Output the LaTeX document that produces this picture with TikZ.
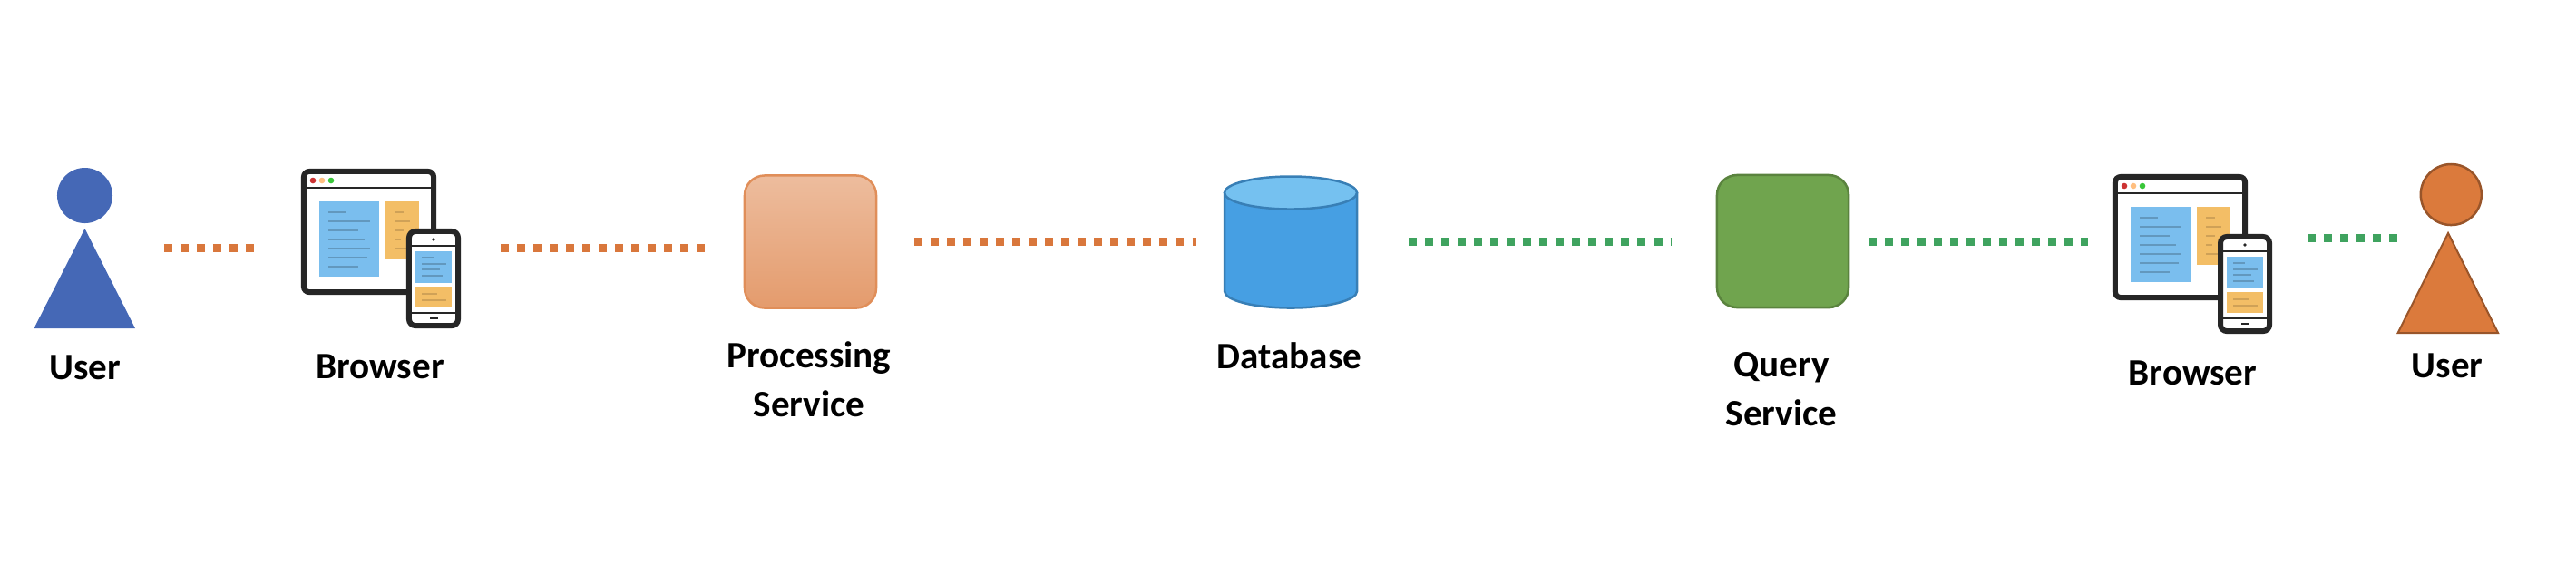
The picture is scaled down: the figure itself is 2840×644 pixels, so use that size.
\documentclass[tikz,border=0pt]{standalone}
\usepackage{fontspec}
\usepackage{xcolor}
\usepackage{tikz}
\usetikzlibrary{positioning,shapes.geometric}
\setmainfont{Carlito}
\definecolor{qblue}{HTML}{4568B6}
\definecolor{qorange}{HTML}{DB7A3C}
\definecolor{qdotorange}{HTML}{D9773C}
\definecolor{qdotgreen}{HTML}{3FA35F}
\definecolor{qgreen}{HTML}{70A44E}
\definecolor{qdbside}{HTML}{469FE3}
\definecolor{qdbtop}{HTML}{75C1F0}
\definecolor{qpaneblue}{HTML}{7ABEEE}
\definecolor{qpaneorange}{HTML}{F3BE66}
\tikzset{
  browser/.pic={
    \fill[black!6] (110,60) rectangle (143,133);
    \node[win,minimum width=1.43cm,minimum height=1.33cm] (-win) at (74.5,69.5) {};
    \draw[rule] (4,21) -- (145,21);
    \foreach \xa/\c in {13/red!60!gray,23/orange!50!white,33/green!55!gray}
      \fill[\c] (\xa,13) circle (3.3);
    \fill[qpaneblue] (20,36) rectangle (86,119);
    \fill[qpaneorange] (93,36) rectangle (130,100);
    \foreach \ya/\e in {48/50,58/76,68/63,78/70,88/76,98/73,108/63}
      \draw[txtblue] (30,\ya) -- (\e,\ya);
    \foreach \ya/\e in {48/113,58/120,68/113,78/110,88/116}
      \draw[txtorange] (103,\ya) -- (\e,\ya);
    \node[win,rounded corners=.07cm,minimum width=.54cm,minimum height=1.04cm] (-ph) at (146,121) {};
    \draw[rule] (119,85) -- (173,85);
    \draw[rule] (119,159) -- (173,159);
    \fill[black!85] (146,78) circle (1.9);
    \fill[black!85] (141.5,163.7) rectangle (150.5,166.3);
    \fill[qpaneblue] (126,91) rectangle (166,126);
    \fill[qpaneorange] (126,130) rectangle (166,153);
    \foreach \ya/\e in {98/146,105/160,111/153,118/156}
      \draw[txtblue] (133,\ya) -- (\e,\ya);
    \foreach \ya/\e in {138/150,145/160}
      \draw[txtorange] (133,\ya) -- (\e,\ya);
  }
}

\begin{document}
\begin{tikzpicture}[x=.01cm,y=-.01cm,
  win/.style={draw=black!85,fill=white,line width=.06cm,rounded corners=.06cm,inner sep=0pt},
  rule/.style={black!85,line width=.025cm},
  txtblue/.style={qpaneblue!80!black,line width=.022cm},
  txtorange/.style={qpaneorange!85!black,line width=.022cm},
  head/.style={ellipse,inner sep=0pt},
  svc/.style={rounded corners=.22cm,minimum width=1.45cm,minimum height=1.46cm,line width=.025cm,inner sep=0pt},
  lbl/.style={font=\fontsize{11.7}{15.1}\selectfont\bfseries,align=center,inner sep=0pt,text=black},
  dotorg/.style={qdotorange,line width=.09cm,dash pattern=on .09cm off .09cm},
  dotgrn/.style={qdotgreen,line width=.09cm,dash pattern=on .09cm off .09cm}]
\useasboundingbox (0,0) rectangle (2840,644);
\coordinate (rowa) at (0,273);
\coordinate (rowb) at (0,262);
% left user
\node[head,fill=qblue,minimum width=.61cm,minimum height=.61cm] (headL) at (93.5,215.5) {};
\fill[qblue] (93.5,252) -- (37.5,362) -- (149,362) -- cycle;
\node[lbl,anchor=base] (userL) at (93.5,418) {User};
% browsers
\pic (brL) at (332,186) {browser};
\pic (brR) at (2329,192) {browser};
\node[lbl,anchor=base] (lblbrL) at (419,417) {Browser};
\node[lbl,anchor=base] (lblbrR) at (2417.5,424) {Browser};
% services
\node[svc,draw=qorange!85!white,top color=qorange!50!white,bottom color=qorange!75!white] (proc) at (893.5,266.5) {};
\node[lbl,anchor=base] (lblproc) at (892,459) {Processing\\Service};
\draw[draw=qdbside!80!black,fill=qdbside,line width=.025cm] (1350,213) -- (1350,321) arc[start angle=180,end angle=360,x radius=.73cm,y radius=.185cm] -- (1496,213) -- cycle;
\node[head,draw=qdbside!80!black,fill=qdbtop,line width=.025cm,minimum width=1.46cm,minimum height=.36cm] (dbtop) at (1423,212.5) {};
\node[lbl,anchor=base] (lbldb) at (1421.5,406) {Database};
\node[svc,draw=qgreen!80!black,fill=qgreen] (query) at (1965.5,266) {};
\node[lbl,anchor=base] (lblquery) at (1964,469) {Query\\Service};
% right user
\node[head,fill=qorange,draw=qorange!70!black,line width=.025cm,minimum width=.67cm,minimum height=.67cm] (headR) at (2702.3,214.5) {};
\draw[qorange!70!black,fill=qorange,line width=.02cm] (2699,257) -- (2643.6,367) -- (2754,367) -- cycle;
\node[lbl,anchor=base] (userR) at (2698,416) {User};
% connectors
\draw[dotorg,shorten <=.56cm,shorten >=.52cm] (headL.east |- rowa) -- (brL-win.west |- rowa);
\draw[dotorg,shorten <=.44cm,shorten >=.41cm] (brL-ph.east |- rowa) -- (proc.west |- rowa);
\draw[dotorg,shorten <=.41cm,shorten >=.30cm] (proc.east) -- (proc.east -| dbtop.west);
\draw[dotgrn,shorten <=.56cm,shorten >=.49cm] (query.west -| dbtop.east) -- (query.west);
\draw[dotgrn,shorten <=.21cm,shorten >=.27cm] (query.east) -- (query.east -| brR-win.west);
\draw[dotgrn,shorten <=.39cm,shorten >=.25cm] (brR-ph.east |- rowb) -- (headR.west |- rowb);
\end{tikzpicture}
\end{document}
